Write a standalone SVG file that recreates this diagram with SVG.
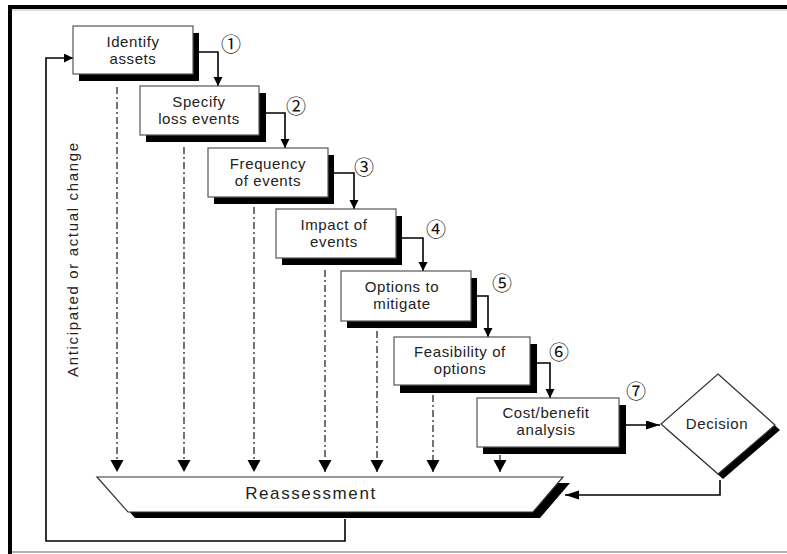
<svg xmlns="http://www.w3.org/2000/svg" width="787" height="554" viewBox="0 0 787 554">
<style>
.box{fill:#fff;stroke:#555;stroke-width:1.2}
.sh{fill:#000}
.t{font-family:"Liberation Sans",Arial,sans-serif;font-size:15px;letter-spacing:0.6px;text-anchor:middle;fill:#222}
.num{font-family:"Noto Sans CJK JP","DejaVu Sans",sans-serif;font-size:20px;text-anchor:middle;fill:#111}
.c{fill:none;stroke:#000;stroke-width:1.6}
.d{fill:none;stroke:#000;stroke-width:1.1;stroke-dasharray:7 3 2 3}
</style>
<defs>
<marker id="ah" markerWidth="10" markerHeight="10" refX="9" refY="4.5" orient="auto" markerUnits="userSpaceOnUse"><path d="M0,0 L9,4.5 L0,9 z" fill="#000"/></marker>
<marker id="ahl" markerWidth="16" markerHeight="10" refX="14" refY="4.5" orient="auto" markerUnits="userSpaceOnUse"><path d="M0,0 L14,4.5 L0,9 z" fill="#000"/></marker>
<marker id="ahd" markerWidth="14" markerHeight="14" refX="12" refY="6.5" orient="auto" markerUnits="userSpaceOnUse"><path d="M0,0 L12,6.5 L0,13 z" fill="#000"/></marker>
</defs>

<g id="frame">
<rect x="8" y="5" width="779" height="4" fill="#000"/>
<line x1="12" y1="10" x2="787" y2="10" stroke="#bbb" stroke-width="1"/>
<rect x="8" y="5" width="4" height="549" fill="#000"/>
<line x1="12" y1="552" x2="787" y2="552" stroke="#999" stroke-width="1.5"/>
</g>

<g id="connectors">
<path class="c" d="M199,52 H218 V86" marker-end="url(#ah)"/>
<path class="c" d="M266,113 H285 V148" marker-end="url(#ah)"/>
<path class="c" d="M334,173 H354 V209" marker-end="url(#ah)"/>
<path class="c" d="M402,238 H423 V271" marker-end="url(#ah)"/>
<path class="c" d="M477,296 H488 V337" marker-end="url(#ah)"/>
<path class="c" d="M536,363 H550 V398" marker-end="url(#ah)"/>
<path class="c" d="M625,425 H660" marker-end="url(#ahl)"/>
<path class="c" d="M720,480 V495 H565" marker-end="url(#ahl)"/>
<path class="c" d="M345,519 V541 H46 V58 H73" marker-end="url(#ah)"/>
<path class="d" d="M117,87 V472" marker-end="url(#ahd)"/>
<path class="d" d="M184,147 V472" marker-end="url(#ahd)"/>
<path class="d" d="M254,207 V472" marker-end="url(#ahd)"/>
<path class="d" d="M325,270 V472" marker-end="url(#ahd)"/>
<path class="d" d="M377,331 V472" marker-end="url(#ahd)"/>
<path class="d" d="M433,395 V472" marker-end="url(#ahd)"/>
<path class="d" d="M500,455 V472" marker-end="url(#ahd)"/>
</g>

<g id="n1">
<rect class="sh" x="79" y="33" width="120" height="48"/>
<rect class="box" x="73" y="26" width="120" height="48"/>
<text class="t" x="133" y="47">Identify</text>
<text class="t" x="133" y="64">assets</text>
<text class="num" x="231" y="52">①</text>
</g>
<g id="n2">
<rect class="sh" x="146" y="93" width="120" height="49"/>
<rect class="box" x="140" y="86" width="119" height="49"/>
<text class="t" x="199" y="107">Specify</text>
<text class="t" x="199" y="124">loss events</text>
<text class="num" x="296" y="114">②</text>
</g>
<g id="n3">
<rect class="sh" x="214" y="155" width="120" height="49"/>
<rect class="box" x="208" y="148" width="120" height="49"/>
<text class="t" x="268" y="169">Frequency</text>
<text class="t" x="268" y="186">of events</text>
<text class="num" x="364" y="175">③</text>
</g>
<g id="n4">
<rect class="sh" x="282" y="216" width="120" height="49"/>
<rect class="box" x="276" y="209" width="120" height="49"/>
<text class="t" x="334" y="230">Impact of</text>
<text class="t" x="334" y="247">events</text>
<text class="num" x="436" y="237">④</text>
</g>
<g id="n5">
<rect class="sh" x="347" y="278" width="130" height="50"/>
<rect class="box" x="341" y="271" width="130" height="50"/>
<text class="t" x="402" y="292">Options to</text>
<text class="t" x="402" y="309">mitigate</text>
<text class="num" x="502" y="291">⑤</text>
</g>
<g id="n6">
<rect class="sh" x="400" y="344" width="137" height="49"/>
<rect class="box" x="394" y="337" width="136" height="48"/>
<text class="t" x="460" y="357">Feasibility of</text>
<text class="t" x="460" y="374">options</text>
<text class="num" x="559" y="360">⑥</text>
</g>
<g id="n7">
<rect class="sh" x="483" y="405" width="143" height="49"/>
<rect class="box" x="477" y="398" width="142" height="49"/>
<text class="t" x="546" y="418">Cost/benefit</text>
<text class="t" x="546" y="435">analysis</text>
<text class="num" x="636" y="399">⑦</text>
</g>
<g id="decision">
<polygon class="sh" points="723,379 780,430 723,479 666,429"/>
<polygon points="718,374 775,425 718,474 661,424" fill="#fff" stroke="#333" stroke-width="1.2"/>
<text class="t" x="717" y="429">Decision</text>
</g>
<g id="reassessment">
<polygon class="sh" points="104,483 570,483 540,518 135,518"/>
<polygon points="97,477 563,477 533,512 128,512" fill="#fff" stroke="#333" stroke-width="1.2"/>
<text class="t" x="311" y="499" style="font-size:17px;letter-spacing:1.6px">Reassessment</text>
</g>
<g id="loop-label">
<text class="t" transform="translate(78,260) rotate(-90)" style="font-size:15px;letter-spacing:0" textLength="234" lengthAdjust="spacing">Anticipated or actual change</text>
</g>
</svg>
